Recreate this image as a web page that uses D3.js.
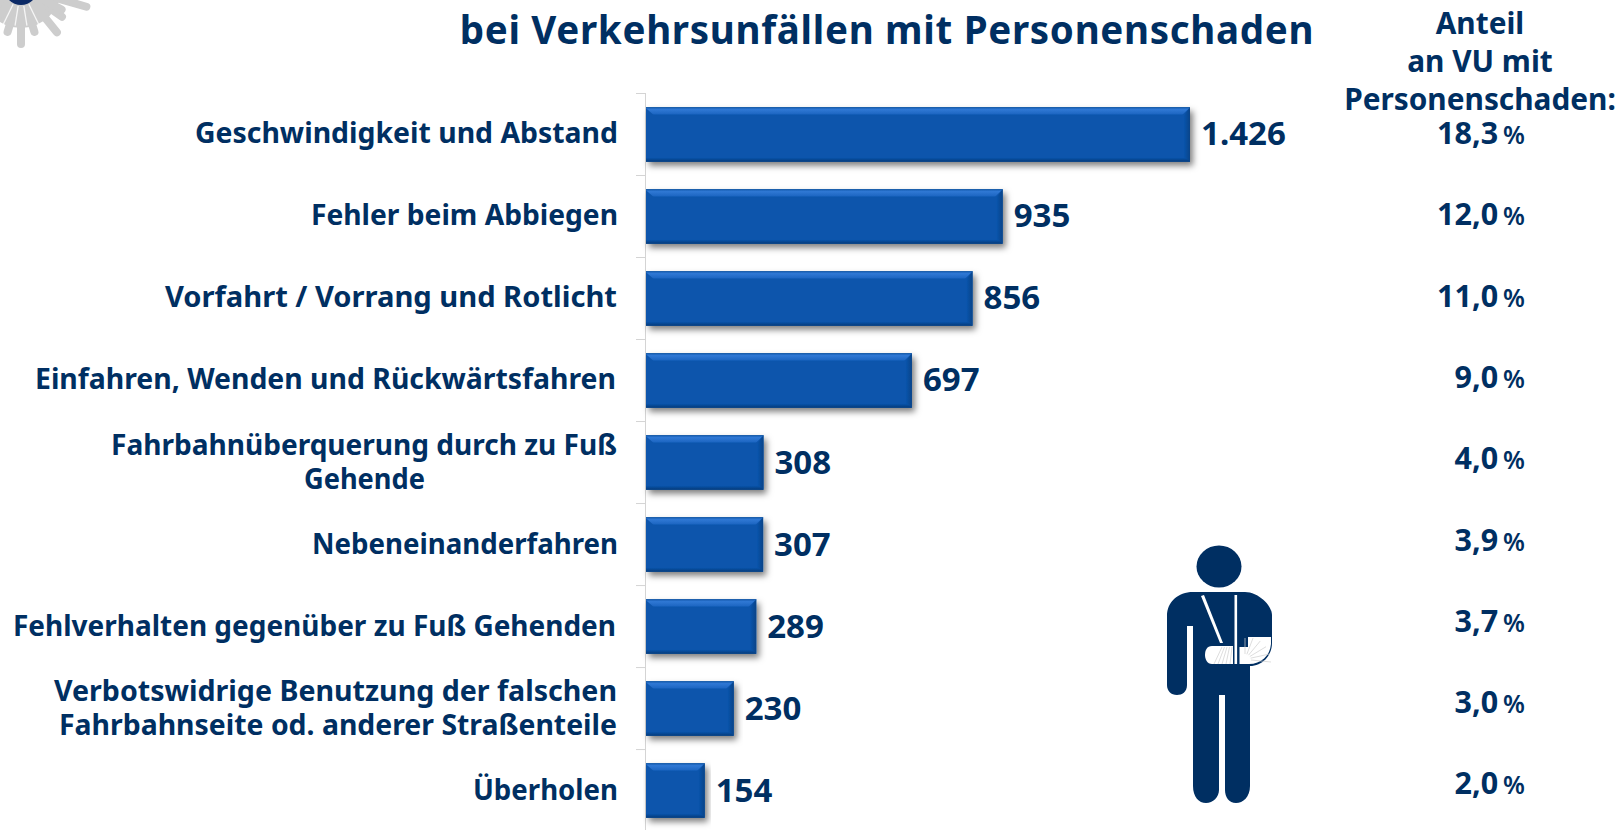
<!DOCTYPE html>
<html><head><meta charset="utf-8">
<script src="https://cdn.jsdelivr.net/npm/d3@7"></script>
<style>html,body{margin:0;background:#fff}svg{display:block}text{font-family:"Noto Sans",sans-serif;font-weight:700;fill:#002f62}</style>
</head><body><div id="c"></div>
<script>
const categories=[["Geschwindigkeit und Abstand"],["Fehler beim Abbiegen"],["Vorfahrt / Vorrang und Rotlicht"],["Einfahren, Wenden und Rückwärtsfahren"],["Fahrbahnüberquerung durch zu Fuß","Gehende"],["Nebeneinanderfahren"],["Fehlverhalten gegenüber zu Fuß Gehenden"],["Verbotswidrige Benutzung der falschen","Fahrbahnseite od. anderer Straßenteile"],["Überholen"]];
const values=[1426,935,856,697,308,307,289,230,154];
const valueLabels=["1.426","935","856","697","308","307","289","230","154"];
const shares=["18,3","12,0","11,0","9,0","4,0","3,9","3,7","3,0","2,0"];
const title="bei Verkehrsunfällen mit Personenschaden";
const shareHead=["Anteil","an VU mit","Personenschaden:"];
const labelWidths=[[423],[307],[452],[581],[506,121],[306],[603],[563,558],[145]];
const labelRight=[618,618,617,616,617,618,616,617,618];
const W=1620,H=830;
const svg=d3.select("#c").append("svg").attr("width",W).attr("height",H);
const defs=svg.append("defs");
const f=defs.append("filter").attr("id","sh").attr("x","-5%").attr("y","-20%").attr("width","115%").attr("height","150%");
f.append("feDropShadow").attr("dx",3).attr("dy",4).attr("stdDeviation",3).attr("flood-color","#000").attr("flood-opacity",.5);
const grad=(id,stops,v)=>{const g=defs.append("linearGradient").attr("id",id).attr("x1",0).attr("y1",0).attr("x2",v?0:1).attr("y2",v?1:0);stops.forEach(([o,c])=>g.append("stop").attr("offset",o).attr("stop-color",c))};
grad("gt",[[0,"#1a63bf"],[.3,"#2f78d4"],[.8,"#1f68c4"],[1,"#0854ac"]],true);
grad("gr",[[0,"#0854ac"],[1,"#0a4488"]],false);
grad("gb",[[0,"#0854ac"],[1,"#063a78"]],true);
const y=d3.scaleBand().domain(d3.range(values.length)).range([93.5,831.5]).paddingInner(.335).paddingOuter(.167);
const x=d3.scaleLinear().domain([0,1426]).range([646,1190]);
// axis
const edges=d3.range(values.length+1).map(i=>93+i*y.step());
const axis=svg.append("g").attr("stroke","#d4d4d4").attr("fill","none");
axis.append("line").attr("x1",x(0)-.5).attr("x2",x(0)-.5).attr("y1",edges[0]).attr("y2",H);
axis.selectAll(".t").data(edges).join("line").attr("x1",x(0)-10).attr("x2",x(0)-.5).attr("y1",d=>d+.5).attr("y2",d=>d+.5);
// bars
const g=svg.selectAll(".bar").data(values).join("g").attr("class","bar");
const B=8;
g.append("rect").attr("x",x(0)).attr("y",(d,i)=>y(i)).attr("width",d=>x(d)-x(0)).attr("height",y.bandwidth()).attr("fill","#0854ac").attr("filter","url(#sh)");
const poly=(fill,fn)=>g.append("path").attr("fill",fill).attr("d",(d,i)=>{const l=x(0),r=x(d),t=y(i),b=t+y.bandwidth();return fn(l,r,t,b)});
poly("url(#gt)",(l,r,t,b)=>`M${l},${t}H${r}L${r-B},${t+B}H${l+B}L${l},${t+1}Z`);
poly("url(#gr)",(l,r,t,b)=>`M${r},${t}V${b}L${r-B+2},${b-3}V${t+B}Z`);
poly("url(#gb)",(l,r,t,b)=>`M${l},${b}H${r}L${r-4},${b-4}H${l}Z`);
g.append("rect").attr("x",x(0)).attr("y",(d,i)=>y(i)).attr("width",d=>x(d)-x(0)).attr("height",1).attr("fill","#1c5ea8");
// value labels
svg.selectAll(".v").data(values).join("text").attr("class","v").attr("x",d=>x(d)+11).attr("y",(d,i)=>y(i)+y.bandwidth()/2+11).attr("font-size",33).text((d,i)=>valueLabels[i]);
// category labels
categories.forEach((lines,i)=>{const cy=y(i)+y.bandwidth()/2;
 lines.forEach((l,k)=>{
  const w=labelWidths[i][k];
  const left=(i===4&&k===1)?304:labelRight[i]-w;
  svg.append("text").attr("class","c").attr("x",left).attr("y",cy+9+(k-(lines.length-1)/2)*34).attr("font-size",28).attr("textLength",w).attr("lengthAdjust","spacingAndGlyphs").text(l);
 });});
// title + share column
svg.append("text").attr("x",887).attr("y",44).attr("text-anchor","middle").attr("font-size",38.5).attr("letter-spacing",.7).text(title);
svg.selectAll(".h").data(shareHead).join("text").attr("class","h").attr("x",1480).attr("y",(d,i)=>34+i*37.8).attr("text-anchor","middle").attr("font-size",29.8).text(d=>d);
const st=svg.selectAll(".s").data(shares).join("text").attr("class","s").attr("x",1525).attr("y",(d,i)=>144+i*81.3).attr("text-anchor","end");
st.append("tspan").attr("font-size",30.5).text(d=>d);
st.append("tspan").attr("font-size",25).attr("dx",5).attr("font-weight",600).text("%");
// decorative pictogram
const P=svg.append("g").attr("fill","#002f62");
P.append("ellipse").attr("cx",1219).attr("cy",566.5).attr("rx",22.5).attr("ry",21);
P.append("path").attr("d","M1193,592H1245C1258,592 1272,605 1272,615V643C1272,656 1262,666 1250,666V786C1250,797 1243,803 1236,803C1229,803 1225,797 1225,790V695H1219V790C1219,797 1213,803 1206,803C1199,803 1193,797 1193,786V626H1187V685C1187,692 1182,695 1177,695C1171,695 1167,691 1167,685V616C1167,602 1178,592 1193,592Z");
const Wh=svg.append("g").attr("fill","#fff");
Wh.append("path").attr("d","M1212,646H1233V664H1212C1207,664 1205,659 1205,655C1205,650 1207,646 1212,646Z");
Wh.append("path").attr("d","M1239.5,647H1248V637H1271V644C1270,656 1261,664 1249,664H1239.5Z");
Wh.append("path").attr("d","M1201,596L1204,595L1223,643L1220,643Z");
Wh.append("rect").attr("x",1234.5).attr("y",595).attr("width",2.6).attr("height",69);
const folds=svg.append("g").attr("stroke","#cfcfcf").attr("stroke-width",.7);
d3.range(6).forEach(k=>{const a=(k/5)*Math.PI/2;folds.append("line").attr("x1",1245+Math.cos(a)*6).attr("y1",664-Math.sin(a)*6-4).attr("x2",1245+Math.cos(a)*26).attr("y2",Math.max(638,664-Math.sin(a)*26-2))});
d3.range(5).forEach(k=>folds.append("line").attr("x1",1214+k*4).attr("y1",664).attr("x2",1222+k*2.5).attr("y2",647));
// decorative star fragment
const S=svg.append("g").attr("transform","translate(21,-12)");
S.append("circle").attr("r",40).attr("fill","#cdcdcd");
[[0,56],[-39,57],[-74,68],[39,57],[-17,46],[17,46],[-55,50],[-62,46]].forEach(([a,r])=>S.append("line").attr("transform",`rotate(${a})`).attr("y1",20).attr("y2",r).attr("stroke","#cdcdcd").attr("stroke-width",8).attr("stroke-linecap","round"));
[-9,9,-26,26].forEach(a=>S.append("line").attr("transform",`rotate(${a})`).attr("y1",18).attr("y2",a%2?38:42).attr("stroke","#fff").attr("stroke-width",1.3).attr("opacity",.8));
S.append("circle").attr("r",17).attr("fill","#0c2a66");
</script></body></html>
